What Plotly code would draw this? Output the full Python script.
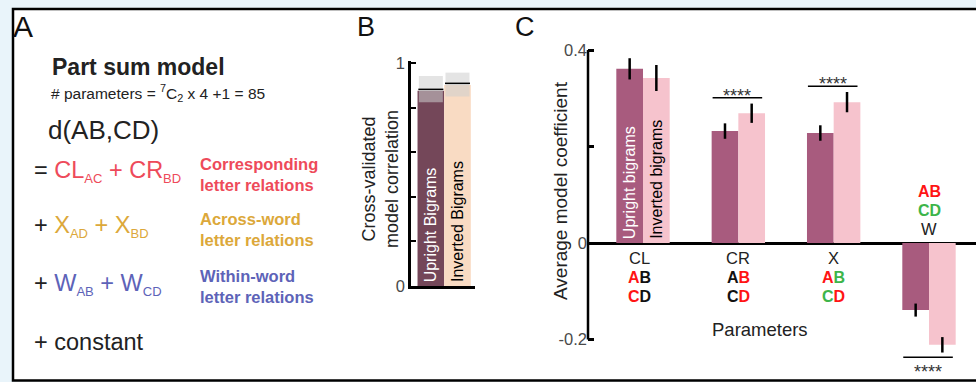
import plotly.graph_objects as go

W, H = 976, 382
FONT = "Liberation Sans, Arial, Helvetica, sans-serif"


def px(x):
    return x / W


def py(y):
    return 1 - y / H


# ---- Panel B: cross-validated model correlation ----
b_labels = ["Upright Bigrams", "Inverted Bigrams"]
b_corr = [0.877, 0.903]
b_ceiling_mean = [0.883, 0.910]
b_ceiling_low = [0.825, 0.851]
b_ceiling_high = [0.943, 0.958]
b_colors = ["#744759", "#F9DBC3"]
b_text_colors = ["white", "black"]

# ---- Panel C: average model coefficients ----
c_params = ["CL", "CR", "X", "W"]
c_upright = [0.361, 0.232, 0.228, -0.139]
c_upright_err = [0.022, 0.016, 0.016, 0.0135]
c_inverted = [0.342, 0.269, 0.292, -0.211]
c_inverted_err = [0.027, 0.020, 0.021, 0.016]
c_signif = ["", "****", "****", "****"]
c_series = ["Upright bigrams", "Inverted bigrams"]
c_colors = ["#A85B7E", "#F6C3CD"]
c_text_colors = ["white", "black"]
# letter colours for the "AB" / "CD" rows under each parameter
RED, GRN, BLK = "#FF1414", "#3DB54A", "#111111"
c_row_ab = [(RED, BLK), (BLK, RED), (RED, GRN), (RED, RED)]
c_row_cd = [(RED, BLK), (BLK, RED), (GRN, RED), (GRN, GRN)]

fig = go.Figure()

# Panel B bars
for i, (lab, val, col) in enumerate(zip(b_labels, b_corr, b_colors)):
    fig.add_trace(go.Bar(x=[i], y=[val], width=1.0, marker=dict(color=col, line=dict(width=0)),
                         xaxis="x", yaxis="y", showlegend=False, hoverinfo="skip"))

# Panel C bars
BW = 0.28
for s, (name, vals, errs, col) in enumerate(zip(c_series, [c_upright, c_inverted],
                                                [c_upright_err, c_inverted_err], c_colors)):
    fig.add_trace(go.Bar(x=list(range(len(c_params))), y=vals, width=BW, offset=-BW + s * BW,
                         marker=dict(color=col, line=dict(width=0)),
                         error_y=dict(type="data", array=errs, visible=True, color="black",
                                      thickness=2.5, width=0),
                         xaxis="x2", yaxis="y2", showlegend=False, hoverinfo="skip", name=name))

shapes = [
    # white framed panel
    dict(type="rect", xref="paper", yref="paper", x0=px(13), x1=1.02, y0=py(380.5), y1=py(9),
         fillcolor="white", line=dict(color="black", width=2.5), layer="below"),
    # Panel C left spine from -0.2 to 0.4
    dict(type="line", xref="x2 domain", yref="y2", x0=0, x1=0, y0=-0.2, y1=0.4,
         line=dict(color="black", width=2.5)),
]

# noise-ceiling boxes and mean lines in panel B
for i in range(len(b_labels)):
    shapes.append(dict(type="rect", xref="x", yref="y", x0=i - 0.45, x1=i + 0.45,
                       y0=b_ceiling_low[i], y1=b_ceiling_high[i],
                       fillcolor="rgba(205,205,205,0.55)", line=dict(width=0), layer="above"))
    shapes.append(dict(type="line", xref="x", yref="y", x0=i - 0.47, x1=i + 0.47,
                       y0=b_ceiling_mean[i], y1=b_ceiling_mean[i],
                       line=dict(color="black", width=1.5), layer="above"))

annotations = []


def ann(text, x, y, size, color="#222222", xanchor="left", yanchor="middle", **kw):
    d = dict(text=text, x=x, y=y, xref=kw.pop("xref", "paper"), yref=kw.pop("yref", "paper"),
             showarrow=False, xanchor=xanchor, yanchor=yanchor,
             align="left" if xanchor == "left" else "center",
             font=dict(family=FONT, size=size, color=color))
    d.update(kw)
    annotations.append(d)


# significance brackets in panel C
for i, sig in enumerate(c_signif):
    if not sig:
        continue
    if c_upright[i] >= 0:
        top = max(c_upright[i] + c_upright_err[i], c_inverted[i] + c_inverted_err[i])
        ly = top + 0.012
        star_shift = 7
    else:
        bot = min(c_upright[i] - c_upright_err[i], c_inverted[i] - c_inverted_err[i])
        ly = bot - 0.010
        star_shift = -10
    shapes.append(dict(type="line", xref="x2", yref="y2", x0=i - 0.27, x1=i + 0.25, y0=ly, y1=ly,
                       line=dict(color="black", width=1.5)))
    ann(sig, i - 0.01, ly, 18, "#333333", xanchor="center", xref="x2", yref="y2",
        yshift=star_shift - 5)

# Panel letters
ann("A", px(11), py(27), 30, "#111111")
ann("B", px(355), py(27), 27, "#111111")
ann("C", px(513), py(27), 27, "#111111")

# Panel A: model description
RED_T, GOLD_T, BLUE_T = "#EE4A5A", "#DCA83A", "#5D63B8"
SUB = '<sub><span style="font-size:13px">%s</span></sub>'
ann("<b>Part sum model</b>", px(50), py(67), 23, "#222222")
ann("# parameters = <sup>7</sup>C<sub>2</sub> x 4 +1 = 85", px(49), py(93), 15.5, "#222222")
ann("d(AB,CD)", px(46), py(130), 26, "#222222")
ann('= <span style="color:%s">CL%s + CR%s</span>' % (RED_T, SUB % "AC", SUB % "BD"),
    px(32), py(171), 23.5, "#222222")
ann('+ <span style="color:%s">X%s + X%s</span>' % (GOLD_T, SUB % "AD", SUB % "BD"),
    px(32), py(226), 23.5, "#222222")
ann('+ <span style="color:%s">W%s + W%s</span>' % (BLUE_T, SUB % "AB", SUB % "CD"),
    px(32), py(284), 23.5, "#222222")
ann("+ constant", px(32), py(342), 23.5, "#222222")
ann("<b>Corresponding<br>letter relations</b>", px(198), py(174), 16.5, RED_T)
ann("<b>Across-word<br>letter relations</b>", px(198), py(229), 16.5, GOLD_T)
ann("<b>Within-word<br>letter relations</b>", px(198), py(286), 16.5, BLUE_T)

# Panel B texts
ann("Cross-validated<br>model correlation", px(380), py(179), 18, "#222222",
    xanchor="center", textangle=-90)
for i, lab in enumerate(b_labels):
    ann(lab, i, 0, 16, b_text_colors[i], xanchor="center", yanchor="bottom",
        xref="x", yref="y", textangle=-90, yshift=2)

# Panel C texts
ann("Average model coefficient", px(560), py(191), 19, "#222222", xanchor="center", textangle=-90)
ann("Parameters", px(760), py(329), 18.5, "#222222", xanchor="center")
for s, lab in enumerate(c_series):
    ann(lab, -BW / 2 + s * BW, 0, 16, c_text_colors[s], xanchor="center", yanchor="bottom",
        xref="x2", yref="y2", textangle=-90, yshift=2)


def pair(a, b, cols):
    return '<b><span style="color:%s">%s</span><span style="color:%s">%s</span></b>' % (
        cols[0], a, cols[1], b)


for i, name in enumerate(c_params):
    rows = [(name, "#222222"), (pair("A", "B", c_row_ab[i]), None), (pair("C", "D", c_row_cd[i]), None)]
    sizes = [16.5, 16, 16]
    if c_upright[i] >= 0:
        shifts = [-15, -34, -53]
    else:
        shifts = [14, 52, 33]
    for k in range(3):
        txt, col = rows[k]
        ann(txt, i - 0.04 if i == 0 else i, 0, sizes[k], col or "#222222", xanchor="center",
            xref="x2", yref="y2", yshift=shifts[k])

TICKFONT = dict(family=FONT, size=16.5, color="#4A4A4A")

fig.update_layout(
    template="none",
    width=W, height=H, margin=dict(l=0, r=0, t=0, b=0, pad=0, autoexpand=False),
    paper_bgcolor="#E9F4FA", plot_bgcolor="rgba(0,0,0,0)",
    barmode="overlay", font=dict(family=FONT), showlegend=False,
    shapes=shapes, annotations=annotations,
    xaxis=dict(domain=[px(411), px(475)], range=[-0.745, 1.657], showgrid=False, zeroline=False,
               showticklabels=False, ticks="", showline=True, linecolor="black", linewidth=2.5,
               automargin=False, fixedrange=True),
    yaxis=dict(domain=[py(286), py(61)], range=[0, 1.0103], showgrid=False, zeroline=False,
               showline=True, linecolor="black", linewidth=2.5,
               tickmode="array", tickvals=[0, 0.2, 0.4, 0.6, 0.8, 1.0],
               ticktext=["0", "", "", "", "", "1"], ticks="inside", ticklen=5, tickwidth=2,
               tickcolor="black", tickfont=TICKFONT, automargin=False, fixedrange=True),
    xaxis2=dict(domain=[px(588), 1.0], range=[-0.577, 3.493], showgrid=False, zeroline=False,
                showticklabels=False, ticks="", showline=False, anchor="y2",
                automargin=False, fixedrange=True),
    yaxis2=dict(domain=[py(370), py(30)], range=[-0.2632, 0.4415], anchor="x2",
                showgrid=False, zeroline=True, zerolinecolor="black", zerolinewidth=2.5,
                showline=False, tickmode="array", tickvals=[-0.2, 0, 0.2, 0.4],
                ticktext=["-0.2", "0", "", "0.4"], ticks="inside", ticklen=6, tickwidth=2.5,
                tickcolor="black", tickfont=TICKFONT, automargin=False, fixedrange=True),
)

fig.write_html("out.html", include_plotlyjs=True, config={"displayModeBar": False})
